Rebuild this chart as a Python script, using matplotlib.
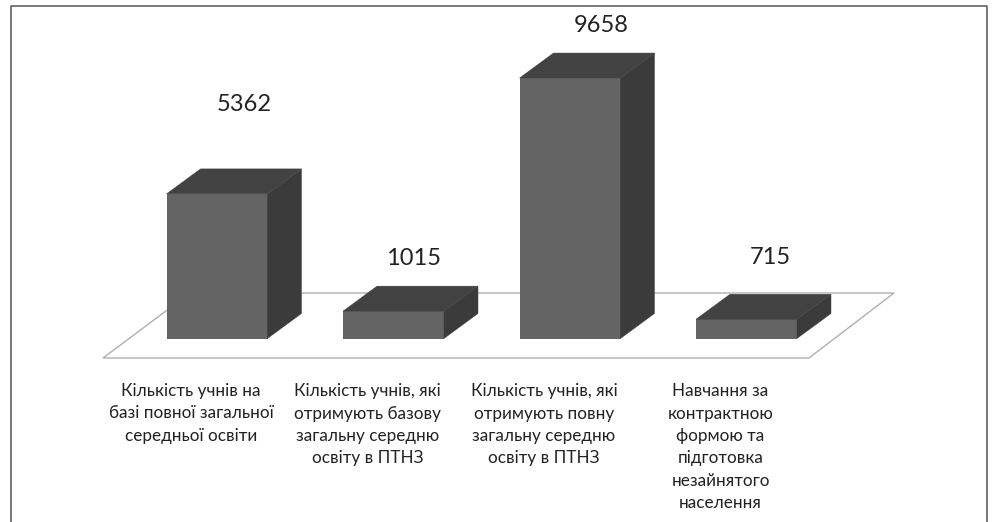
import matplotlib
matplotlib.use("Agg")
import matplotlib.pyplot as plt
from matplotlib.patches import Polygon

# chart values
values = [5362, 1015, 9658, 715]
categories = [
    "Кількість учнів на\nбазі повної загальної\nсередньої освіти",
    "Кількість учнів, які\nотримують базову\nзагальну середню\nосвіту в ПТНЗ",
    "Кількість учнів, які\nотримують повну\nзагальну середню\nосвіту в ПТНЗ",
    "Навчання за\nконтрактною\nформою та\nпідготовка\nнезайнятого\nнаселення",
]

# layout, pixels of the 997x522 picture
W, H = 997, 522
x0_px, step_px = 217.0, 176.5   # centre of first bar, distance between bars
base_px = 338.5                 # y of the bars' front bottom edge
per_unit = 0.02697              # px per one unit of value
bar_w = 101 / step_px
dx = 34 / step_px               # 3d depth in data units
dy = 25 / per_unit

value_pos = [(244.5, 104.5), (414, 258.5), (600.7, 25.5), (770.7, 257)]
label_x = [191, 367.5, 544, 720.5]
label_top = 383

front_col = "#646464"
side_col = "#3b3b3b"
top_col = "#424242"
text_col = "#222222"

plt.rcParams["font.family"] = ["Lato", "Noto Sans", "DejaVu Sans"]

fig = plt.figure(figsize=(W / 100, H / 100), dpi=100)
ax = fig.add_axes([0, 0, 1, 1])
ax.set_xlim(-x0_px / step_px, (W - x0_px) / step_px)
ax.set_ylim(-(H - base_px) / per_unit, base_px / per_unit)
ax.axis("off")


def px(x, y):
    return ((x - x0_px) / step_px, (base_px - y) / per_unit)


# floor
floor = [px(103, 358), px(809, 358), px(894, 293), px(190, 293)]
ax.add_patch(Polygon(floor, closed=True, fc="white", ec="#b0b0b0", lw=1.0, zorder=1))

# bars with depth
for i, v in enumerate(values):
    l, r = i - bar_w / 2, i + bar_w / 2
    ax.bar(i, v, width=bar_w, color=front_col, zorder=3)
    ax.add_patch(Polygon([(r, 0), (r + dx, dy), (r + dx, v + dy), (r, v)], closed=True,
                         fc=side_col, ec=side_col, lw=0.3, zorder=3))
    ax.add_patch(Polygon([(l, v), (r, v), (r + dx, v + dy), (l + dx, v + dy)], closed=True,
                         fc=top_col, ec=top_col, lw=0.3, zorder=3))

# value labels
for v, (x, y) in zip(values, value_pos):
    ax.text(*px(x, y), str(v), ha="center", va="center", fontsize=17, color=text_col)

# category labels
for name, x in zip(categories, label_x):
    ax.text(*px(x, label_top), name, ha="center", va="top", fontsize=12.3, color=text_col,
            linespacing=1.5)

# open frame round the chart, no bottom edge
frame_x = [10.5, 10.5, 987, 987]
frame_y = [522, 5.5, 5.5, 522]
ax.plot(*zip(*[px(a, b) for a, b in zip(frame_x, frame_y)]), color="#555555", lw=1.1, zorder=5)

fig.savefig("out.png", dpi=100)
